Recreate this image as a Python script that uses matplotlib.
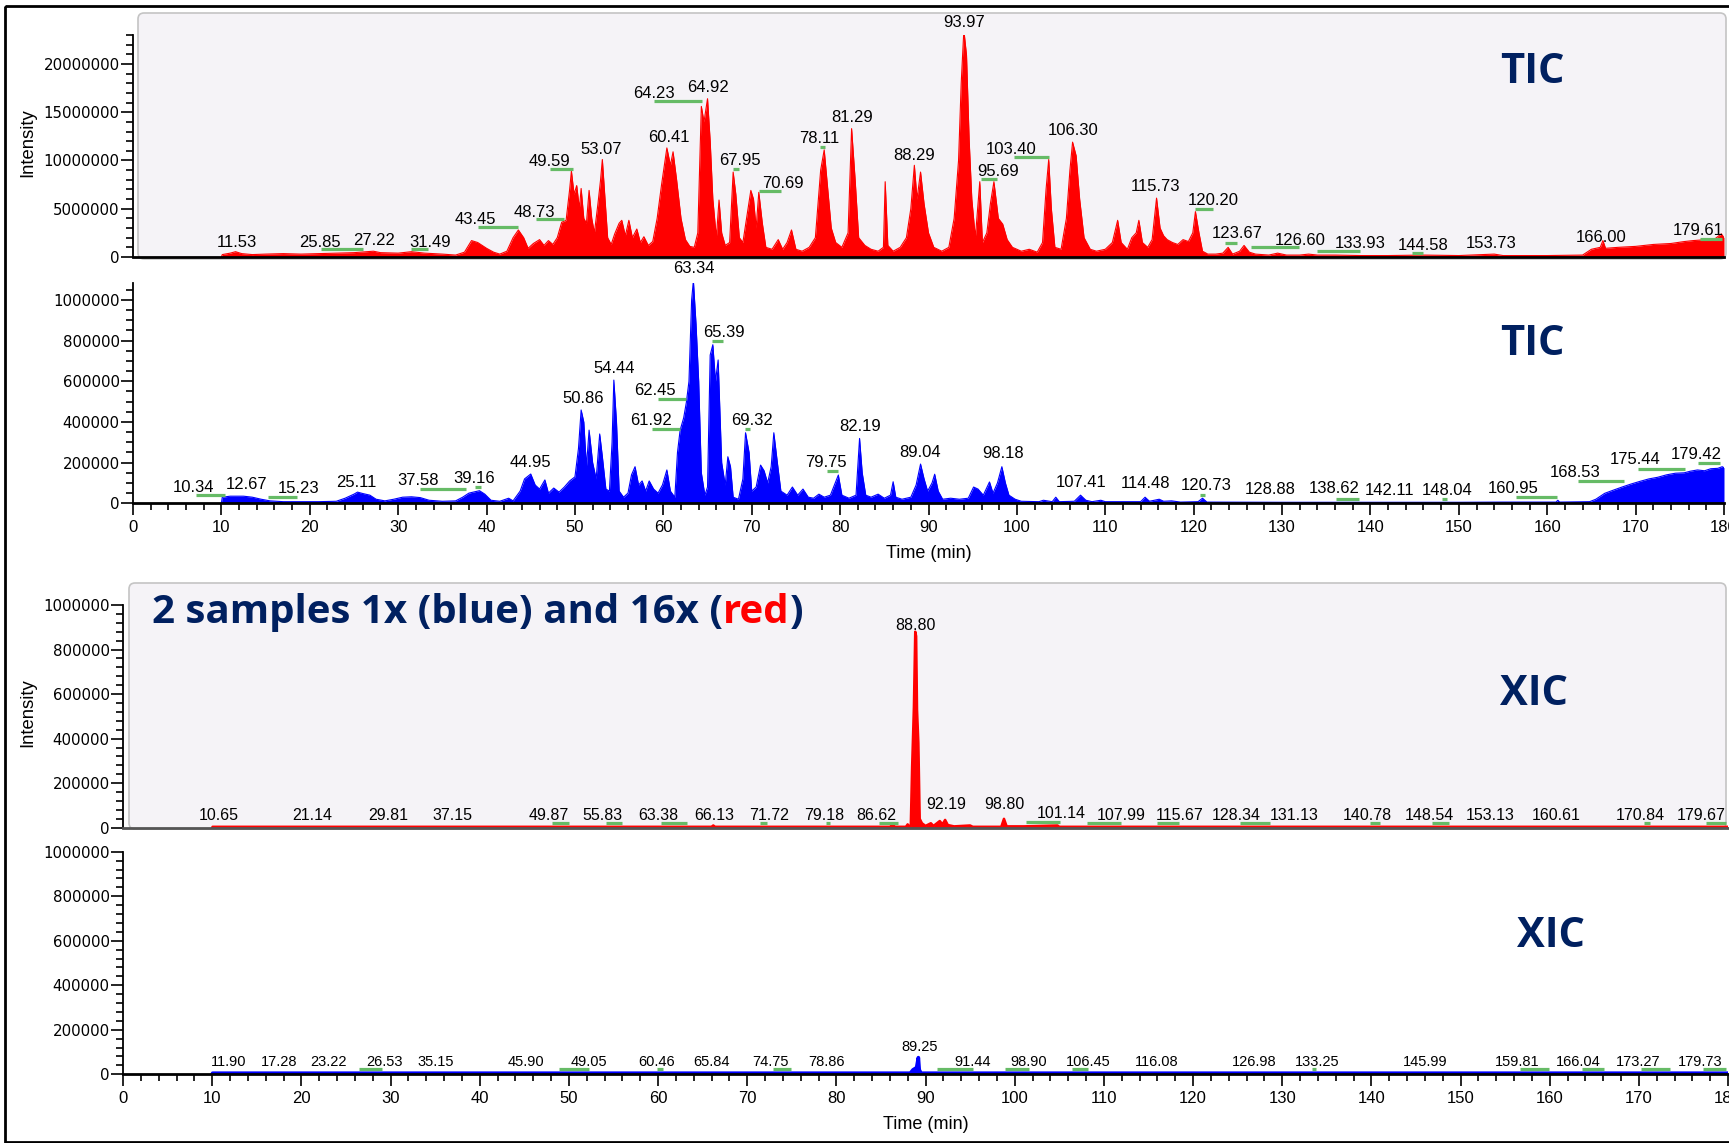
import matplotlib
matplotlib.use('Agg')
import numpy as np
import matplotlib.pyplot as plt
from matplotlib import font_manager
from matplotlib.patches import FancyBboxPatch, Rectangle
from matplotlib.ticker import MultipleLocator

# ---------------- data ----------------
# sample 16x, TIC (intensity in millions)
tic16_t = [10.0, 10.1, 11.0, 11.6, 12.3, 13.5, 15.0, 17.0, 19.0, 21.0, 23.0, 25.0, 27.2, 28.0, 30.0,
           31.5, 33.0, 35.0, 36.5, 37.5, 38.3, 39.0, 40.0, 40.8, 41.5, 42.3, 43.0, 43.6, 44.2, 44.7,
           45.3, 46.0, 46.5, 47.0, 47.5, 48.0, 48.5, 49.0, 49.4, 49.6, 49.9, 50.2, 50.5, 50.7, 51.0,
           51.3, 51.6, 51.9, 52.2, 52.6, 52.9, 53.1, 53.4, 53.7, 54.1, 54.5, 55.0, 55.3, 55.7, 56.1,
           56.5, 57.0, 57.4, 57.8, 58.3, 58.8, 59.3, 59.8, 60.4, 60.8, 61.1, 61.5, 62.0, 62.5, 63.0,
           63.5, 63.9, 64.3, 64.6, 65.0, 65.3, 65.6, 66.0, 66.3, 66.6, 67.0, 67.5, 67.9, 68.2, 68.6,
           69.0, 69.5, 69.9, 70.2, 70.5, 70.8, 71.2, 71.6, 72.3, 73.0, 73.5, 74.0, 74.5, 75.0, 75.7,
           76.5, 77.2, 77.8, 78.2, 78.6, 79.0, 79.5, 80.2, 80.9, 81.3, 81.7, 82.1, 82.8, 83.5, 84.3,
           84.9, 85.1, 85.4, 86.0, 86.8, 87.5, 88.0, 88.4, 88.7, 89.1, 89.5, 90.0, 90.6, 91.5, 92.3,
           92.9, 93.4, 93.7, 94.0, 94.3, 94.6, 94.9, 95.3, 95.8, 96.1, 96.6, 97.0, 97.4, 97.9, 98.4,
           98.9, 99.5, 100.5, 101.4, 102.3, 102.9, 103.3, 103.6, 103.9, 104.3, 105.0, 105.6, 106.0,
           106.3, 106.7, 107.1, 107.6, 108.3, 109.0, 110.0, 110.8, 111.4, 111.8, 112.5, 113.0, 113.5,
           113.8, 114.2, 114.8, 115.3, 115.8, 116.2, 116.6, 117.0, 117.6, 118.2, 118.8, 119.4, 119.9,
           120.2, 120.6, 121.0, 121.6, 122.5, 123.3, 123.9, 124.4, 125.2, 125.7, 126.3, 127.0, 128.5,
           129.5, 130.5, 132.0, 133.0, 134.0, 136.0, 139.0, 142.0, 146.0, 150.0, 154.0, 155.0, 160.0,
           164.0, 165.0, 166.0, 166.3, 166.6, 168.0, 170.0, 172.0, 174.0, 175.5, 176.5, 178.0, 179.0,
           179.7, 180.0]
tic16_i = [0.0, 0.25, 0.4, 0.55, 0.35, 0.25, 0.3, 0.35, 0.3, 0.35, 0.4, 0.45, 0.6, 0.45, 0.4,
           0.55, 0.4, 0.3, 0.2, 0.5, 1.7, 1.5, 0.9, 0.5, 0.3, 0.6, 2.0, 2.8, 2.0, 0.9,
           1.4, 1.8, 1.2, 1.7, 1.3, 2.0, 3.6, 3.8, 7.0, 8.9, 6.5, 7.4, 5.0, 7.1, 4.0,
           3.5, 6.9, 4.0, 2.5, 5.5, 8.0, 10.1, 6.0, 2.0, 1.3, 2.4, 3.5, 3.8, 2.2, 3.8,
           2.0, 2.9, 1.5, 2.1, 1.2, 1.6, 4.0, 7.5, 11.3, 9.5, 10.9, 8.0, 4.0, 1.8, 1.1,
           1.0, 2.5, 15.6, 14.0, 16.4, 12.0, 6.0, 2.0, 5.9, 2.5, 1.2, 1.5, 8.8, 6.5, 2.0,
           1.5, 4.5, 6.9, 6.0, 3.0, 6.7, 3.5, 1.0, 0.8, 1.8, 0.8, 1.5, 2.8, 0.8, 0.6,
           1.0, 2.0, 9.0, 11.1, 7.0, 3.0, 1.5, 1.0, 2.5, 13.3, 8.0, 2.0, 1.2, 0.8, 0.6,
           1.0, 7.8, 1.2, 0.6, 1.0, 2.0, 5.0, 9.5, 6.0, 8.8, 5.5, 2.5, 1.0, 0.6, 1.0,
           4.0, 10.0, 18.0, 23.5, 20.9, 12.1, 6.0, 2.0, 7.8, 1.5, 2.5, 5.5, 7.8, 4.0, 3.4,
           1.8, 1.0, 0.6, 0.8, 0.5, 1.5, 7.0, 10.1, 5.0, 1.0, 0.8, 4.0, 9.0,
           11.9, 10.5, 6.0, 2.0, 0.8, 0.6, 0.8, 1.5, 3.8, 1.5, 0.8, 2.0, 2.5,
           3.8, 1.5, 1.0, 1.8, 6.1, 3.0, 2.2, 1.8, 1.5, 1.3, 1.8, 1.6, 2.5,
           4.7, 2.5, 0.6, 0.3, 0.3, 0.4, 1.0, 0.3, 0.6, 1.2, 0.5, 0.3, 0.2,
           0.4, 0.2, 0.2, 0.3, 0.2, 0.2, 0.15, 0.15, 0.2, 0.15, 0.3, 0.15, 0.15,
           0.2, 0.8, 1.0, 1.7, 0.9, 1.0, 1.1, 1.3, 1.4, 1.6, 1.7, 1.8, 1.9,
           2.4, 2.0]

# sample 1x, TIC (intensity in thousands)
tic1_t = [10.0, 10.1, 11.0, 12.5, 13.5, 14.5, 15.5, 17.0, 19.0, 21.0, 23.0, 24.0, 25.0, 25.4, 26.0,
          26.8, 27.5, 28.5, 29.5, 30.5, 31.5, 32.5, 33.5, 35.0, 36.5, 37.3, 38.0, 39.2, 39.8, 40.5,
          41.5, 42.5, 43.0, 43.8, 44.3, 45.0, 45.5, 46.0, 46.6, 47.0, 47.6, 48.2, 48.8, 49.4, 50.0,
          50.4, 50.7, 51.0, 51.3, 51.6, 52.0, 52.4, 52.8, 53.1, 53.5, 53.9, 54.2, 54.4, 54.7, 55.0,
          55.5, 56.0, 56.4, 56.8, 57.2, 57.6, 58.0, 58.4, 58.9, 59.4, 59.9, 60.4, 60.8, 61.3, 61.6,
          61.9, 62.3, 62.6, 62.9, 63.2, 63.4, 63.7, 64.0, 64.3, 64.7, 65.0, 65.3, 65.6, 65.9, 66.2,
          66.6, 67.0, 67.3, 67.6, 67.9, 68.5, 69.0, 69.3, 69.7, 70.0, 70.5, 71.0, 71.4, 71.8, 72.2,
          72.5, 72.9, 73.3, 74.0, 74.6, 75.2, 75.8, 76.4, 77.0, 77.6, 78.2, 78.9, 79.8, 80.2, 81.0,
          81.8, 82.2, 82.5, 82.9, 83.5, 84.3, 85.0, 85.7, 86.0, 86.3, 87.0, 88.0, 88.6, 89.1, 89.5,
          89.9, 90.4, 90.7, 91.1, 91.6, 92.5, 93.5, 94.5, 95.1, 95.6, 96.2, 96.9, 97.3, 97.8, 98.3,
          98.7, 99.1, 99.8, 100.5, 102.5, 103.0, 104.0, 104.4, 104.8, 106.5, 107.2, 107.8, 108.5,
          109.5, 110.0, 114.0, 114.5, 115.0, 116.1, 116.6, 117.5, 118.5, 120.5, 121.0, 121.5, 130.0,
          140.0, 150.0, 155.0, 161.0, 161.2, 161.4, 164.8, 165.5, 166.5, 167.5, 168.6, 169.5, 170.5,
          171.5, 172.5, 173.5, 174.5, 175.5, 176.2, 177.0, 177.8, 178.5, 179.3, 179.8, 180.0]
tic1_i = [0, 30, 35, 35, 30, 20, 12, 8, 8, 8, 10, 25, 45, 55, 48,
          40, 20, 12, 20, 30, 32, 28, 15, 10, 12, 30, 50, 62, 45, 15,
          10, 25, 12, 60, 120, 144, 90, 70, 115, 50, 75, 55, 80, 110, 130,
          270, 459, 400, 180, 360, 200, 120, 341, 230, 70, 60, 300, 606, 400, 60,
          30, 50, 140, 180, 90, 110, 60, 110, 70, 50, 90, 164, 60, 30, 250,
          360, 420, 495, 600, 1000, 1095, 880, 600, 150, 40, 80, 729, 780, 600, 705,
          200, 90, 229, 180, 30, 20, 120, 347, 250, 60, 80, 188, 160, 100, 180,
          347, 200, 60, 40, 80, 40, 70, 30, 25, 45, 30, 40, 139, 40, 25,
          40, 319, 150, 40, 30, 45, 25, 40, 106, 30, 20, 30, 90, 193, 120,
          60, 100, 143, 60, 20, 25, 20, 25, 80, 70, 40, 105, 50, 100, 180,
          100, 40, 20, 10, 8, 15, 8, 30, 8, 10, 40, 15, 8,
          15, 8, 8, 30, 10, 20, 10, 12, 6, 8, 25, 6, 5,
          5, 5, 6, 6, 15, 6, 8, 20, 49, 65, 82, 95, 108,
          120, 128, 140, 148, 150, 158, 164, 160, 170, 172, 180, 175]

# sample 16x, XIC (thousands)
xic16_t = [10.0, 10.05, 66.0, 66.2, 66.4, 86.0, 86.3, 86.6, 87.8, 88.0, 88.2, 88.35, 88.5, 88.7,
           88.85, 88.95, 89.05, 89.2, 89.35, 89.6, 90.0, 90.6, 90.9, 91.6, 91.9, 92.2, 92.5, 93.2,
           95.0, 95.3, 98.5, 98.8, 99.1, 101.0, 104.8, 105.0, 180.0]
xic16_i = [0, 4, 4, 10, 4, 4, 12, 4, 4, 15, 4, 10, 274, 543,
           880, 860, 530, 380, 40, 20, 8, 20, 8, 30, 15, 35, 12, 6,
           10, 4, 4, 40, 6, 6, 10, 4, 4]

# sample 1x, XIC (thousands)
xic1_t = [10.0, 10.05, 88.3, 88.6, 89.0, 89.2, 89.3, 89.5, 180.0]
xic1_i = [0, 5, 5, 20, 30, 75, 20, 5, 5]

# peak labels: (text, time, height) and integration bars: (start, end, height)
tic16_labels = [('11.53', 11.7, 1.07), ('25.85', 21.2, 1.07), ('27.22', 27.3, 1.24), ('31.49', 33.6, 1.07),
                ('43.45', 38.7, 3.42), ('48.73', 45.4, 4.18), ('49.59', 47.1, 9.46), ('53.07', 53.0, 10.7),
                ('60.41', 60.6, 11.95), ('64.23', 58.9, 16.5), ('64.92', 65.0, 17.1), ('67.95', 68.7, 9.5),
                ('70.69', 73.5, 7.1), ('78.11', 77.6, 11.8), ('81.29', 81.4, 14.0), ('88.29', 88.4, 10.05),
                ('93.97', 94.0, 23.8), ('95.69', 97.9, 8.4), ('103.40', 99.4, 10.7), ('106.30', 106.4, 12.6),
                ('115.73', 115.7, 6.8), ('120.20', 122.2, 5.4), ('123.67', 124.9, 1.94), ('126.60', 132.0, 1.24),
                ('133.93', 138.8, 0.9), ('144.58', 146.0, 0.73), ('153.73', 153.7, 0.9), ('166.00', 166.1, 1.6),
                ('179.61', 177.1, 2.28)]
tic16_bars = [(21.3, 26.0, 0.86), (31.5, 33.4, 0.86), (39.0, 43.6, 3.1), (45.6, 48.8, 3.94), (47.2, 49.8, 9.12),
              (59.0, 64.4, 16.2), (67.9, 68.6, 9.1), (70.8, 73.3, 6.84), (77.7, 78.3, 11.4), (95.9, 97.8, 8.05),
              (99.7, 103.6, 10.4), (120.2, 122.2, 5.0), (123.6, 124.9, 1.42), (126.5, 131.9, 1.0),
              (134.0, 138.8, 0.65), (144.7, 146.0, 0.4), (177.3, 179.8, 1.87)]

tic1_labels = [('10.34', 6.9, 57), ('12.67', 12.9, 69), ('15.23', 18.7, 49), ('25.11', 25.3, 82),
               ('37.58', 32.3, 90), ('39.16', 38.6, 98), ('44.95', 45.0, 177), ('50.86', 50.9, 492),
               ('54.44', 54.4, 642), ('62.45', 59.1, 533), ('61.92', 58.6, 385), ('63.34', 63.4, 1134),
               ('65.39', 66.8, 819), ('69.32', 70.0, 385), ('79.75', 78.4, 180), ('82.19', 82.3, 357),
               ('89.04', 89.0, 229), ('98.18', 98.4, 221), ('107.41', 107.3, 82), ('114.48', 114.5, 74),
               ('120.73', 121.4, 65), ('128.88', 128.7, 46), ('138.62', 135.9, 49), ('142.11', 142.2, 41),
               ('148.04', 148.7, 41), ('160.95', 156.2, 49), ('168.53', 163.2, 128), ('175.44', 170.0, 193),
               ('179.42', 176.9, 216)]
tic1_bars = [(7.1, 10.4, 41), (15.3, 18.5, 30), (32.5, 37.7, 69), (38.7, 39.4, 79), (59.4, 62.6, 512),
             (58.7, 61.9, 364), (65.5, 66.7, 798), (69.2, 69.8, 364), (78.5, 79.8, 159), (120.7, 121.3, 41),
             (136.1, 138.7, 21), (148.1, 148.7, 21), (156.5, 161.1, 30), (163.5, 168.7, 110),
             (170.3, 175.6, 169), (177.1, 179.6, 200)]

xic16_labels = [('10.65', 10.7, 35), ('21.14', 21.2, 35), ('29.81', 29.8, 35), ('37.15', 37.0, 35),
                ('49.87', 47.8, 35), ('55.83', 53.8, 35), ('63.38', 60.0, 35), ('66.13', 66.3, 35),
                ('71.72', 72.4, 35), ('79.18', 78.6, 35), ('86.62', 84.5, 35), ('88.80', 88.9, 888),
                ('92.19', 92.3, 83), ('98.80', 98.8, 83), ('101.14', 105.2, 42), ('107.99', 111.9, 35),
                ('115.67', 118.5, 35), ('128.34', 124.9, 35), ('131.13', 131.4, 35), ('140.78', 139.6, 35),
                ('148.54', 146.5, 35), ('153.13', 153.3, 35), ('160.61', 160.7, 35), ('170.84', 170.2, 35),
                ('179.67', 177.0, 35)]
xic16_bars = [(48.1, 50.0, 20), (54.2, 56.0, 20), (60.3, 63.3, 20), (71.4, 72.2, 20), (78.8, 79.3, 20),
              (84.8, 86.9, 20), (101.3, 105.1, 27), (108.1, 111.9, 20), (116.0, 118.4, 20), (125.3, 128.6, 20),
              (139.9, 141.0, 20), (146.8, 148.7, 20), (170.6, 171.2, 20), (177.5, 179.8, 20)]

xic1_labels = [('11.90', 11.9, 37), ('17.28', 17.5, 37), ('23.22', 23.1, 37), ('26.53', 29.3, 37),
               ('35.15', 35.1, 37), ('45.90', 45.2, 37), ('49.05', 52.3, 37), ('60.46', 59.8, 37),
               ('65.84', 66.0, 37), ('74.75', 72.6, 37), ('78.86', 78.9, 37), ('89.25', 89.3, 106),
               ('91.44', 95.3, 37), ('98.90', 101.6, 37), ('106.45', 108.2, 37), ('116.08', 115.9, 37),
               ('126.98', 126.9, 37), ('133.25', 133.9, 37), ('145.99', 146.0, 37), ('159.81', 156.4, 37),
               ('166.04', 163.2, 37), ('173.27', 169.9, 37), ('179.73', 176.9, 37)]
xic1_bars = [(26.5, 29.1, 22), (48.9, 52.3, 22), (59.9, 60.6, 22), (72.9, 74.9, 22), (91.3, 95.3, 22),
             (98.9, 101.6, 22), (106.4, 108.2, 22), (133.3, 133.8, 22), (156.7, 159.9, 22),
             (163.6, 166.1, 22), (170.2, 173.5, 22), (177.2, 179.8, 22)]

# ---------------- figure ----------------
W, H = 1729, 1143
fig = plt.figure(figsize=(W / 100, H / 100), dpi=100)

installed = {f.name for f in font_manager.fontManager.ttflist}
narrow = 'Liberation Sans Narrow' in installed
pk_font = 'Liberation Sans Narrow' if narrow else 'Liberation Sans'
NAVY = '#002060'
GREEN = '#66bb66'

# background layer in pixel coordinates
bg = fig.add_axes([0, 0, 1, 1], zorder=0)
bg.set_xlim(0, W)
bg.set_ylim(H, 0)
bg.axis('off')
bg.add_patch(Rectangle((5, 6), W, H - 7, fill=False, ec='black', lw=2))
for x0, y0, y1 in [(138, 13, 259), (129, 583, 829)]:
    bg.add_patch(FancyBboxPatch((x0, y0), 1726 - x0, y1 - y0,
                                boxstyle='round,pad=0,rounding_size=6',
                                fc='#f5f3f7', ec='#c4c4c4', lw=1.2))


def add_panel(x0, x1, y_top, y_zero, ymax, yticks, yminor, xaxis):
    ax = fig.add_axes([x0 / W, 1 - y_zero / H, (x1 - x0) / W, (y_zero - y_top) / H], zorder=1)
    ax.patch.set_visible(False)
    ax.set_xlim(0, 180)
    ax.set_ylim(0, ymax)
    ax.spines['top'].set_visible(False)
    ax.spines['right'].set_visible(False)
    ax.spines['left'].set_linewidth(1.3)
    ax.spines['bottom'].set_linewidth(2.0)
    ax.set_yticks(yticks)
    ax.set_yticklabels([str(int(v)) for v in yticks], family='DejaVu Sans', fontsize=10.8)
    ax.yaxis.set_minor_locator(MultipleLocator(yminor))
    ax.tick_params(axis='y', which='major', length=9, width=1.2, pad=0.5)
    ax.tick_params(axis='y', which='minor', length=4.8, width=1.2)
    if xaxis:
        ax.set_xticks(range(0, 181, 10))
        ax.set_xticklabels([str(v) for v in range(0, 181, 10)], family=pk_font,
                           fontsize=13.5 if narrow else 12)
        ax.xaxis.set_minor_locator(MultipleLocator(2))
        ax.tick_params(axis='x', which='major', length=8.4, width=1.2, pad=3.5)
        ax.tick_params(axis='x', which='minor', length=4.8, width=1.2)
        ax.set_xlabel('Time (min)', family='Liberation Sans', fontsize=13, labelpad=7)
    else:
        ax.tick_params(axis='x', which='both', bottom=False, labelbottom=False)
    return ax


def draw_trace(ax, t, v, scale, color, lw):
    y = np.array(v) * scale
    ax.fill_between(t, y, color=color, lw=0)
    ax.plot(t, y, color=color, lw=lw)


def draw_peaks(ax, labels, bars, scale, fs):
    for xa, xb, y in bars:
        ax.plot([xa, xb], [y * scale, y * scale], color=GREEN, lw=2.3,
                solid_capstyle='butt', clip_on=False, zorder=4)
    for txt, x, y in labels:
        ax.text(x, y * scale, txt, ha='center', va='baseline', family=pk_font,
                fontsize=fs, clip_on=False, zorder=5)


# panel 1: TIC 16x
ax1 = add_panel(133, 1724, 35, 257, 23e6, [0, 5e6, 10e6, 15e6, 20e6], 1e6, False)
draw_trace(ax1, tic16_t, tic16_i, 1e6, '#ff0000', 0.8)
draw_peaks(ax1, tic16_labels, tic16_bars, 1e6, 14 if narrow else 12)

# panel 2: TIC 1x
ax2 = add_panel(133, 1724, 282.7, 503.3, 1.085e6, [0, 2e5, 4e5, 6e5, 8e5, 1e6], 5e4, True)
draw_trace(ax2, tic1_t, tic1_i, 1e3, '#0000ff', 0.8)
draw_peaks(ax2, tic1_labels, tic1_bars, 1e3, 13.5 if narrow else 12)

# panel 3: XIC 16x
ax3 = add_panel(123, 1728, 605, 827.7, 1e6, [0, 2e5, 4e5, 6e5, 8e5, 1e6], 4e4, False)
ax3.spines['bottom'].set_color('#555555')
draw_trace(ax3, xic16_t, xic16_i, 1e3, '#ff0000', 1.8)
draw_peaks(ax3, xic16_labels, xic16_bars, 1e3, 12.5 if narrow else 11.5)

# panel 4: XIC 1x
ax4 = add_panel(123, 1728, 851.7, 1074.3, 1e6, [0, 2e5, 4e5, 6e5, 8e5, 1e6], 4e4, True)
draw_trace(ax4, xic1_t, xic1_i, 1e3, '#0000ff', 2.6)
draw_peaks(ax4, xic1_labels, xic1_bars, 1e3, 11.8 if narrow else 10.5)

# axis titles and slide annotations
for yc in (143, 713):
    bg.text(27.7, yc, 'Intensity', rotation=90, ha='center', va='center',
            family='Liberation Sans', fontsize=13.3)

big = dict(ha='center', va='baseline', fontsize=30, fontweight='bold', family='Open Sans', color=NAVY)
bg.text(1532, 83, 'TIC', **big)
bg.text(1532, 355, 'TIC', **big)
bg.text(1534, 705, 'XIC', **big)
bg.text(1551, 947, 'XIC', **big)

head = dict(fontsize=29, fontweight='bold', family='Open Sans')
t1 = bg.text(151.8, 623, '2 samples 1x (blue) and 16x (', ha='left', va='baseline', color=NAVY, **head)
t2 = bg.annotate('red', xy=(1, 0), xycoords=t1, ha='left', va='bottom', color='#ff0000', **head)
bg.annotate(')', xy=(1, 0), xycoords=t2, ha='left', va='bottom', color=NAVY, **head)

fig.savefig('out.png', dpi=100)
